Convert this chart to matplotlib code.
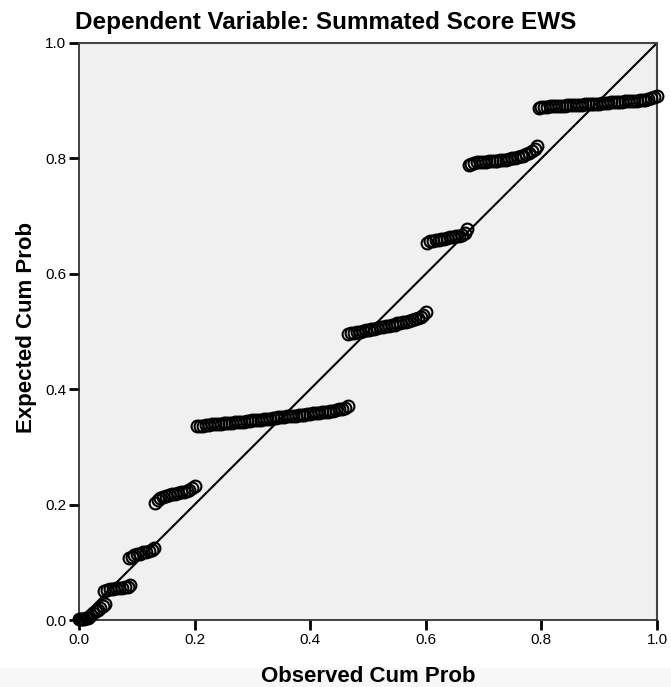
import matplotlib.pyplot as plt
from matplotlib.patches import Rectangle

plt.rcParams['font.family'] = ['Liberation Sans', 'DejaVu Sans']

# observed / expected cumulative probabilities, one list pair per cluster
obs_0 = [0.000, 0.003, 0.006, 0.009, 0.012, 0.015, 0.018]
exp_0 = [0.001, 0.001, 0.002, 0.002, 0.003, 0.004, 0.006]

obs_1 = [0.021, 0.025, 0.029, 0.033, 0.037, 0.041, 0.045]
exp_1 = [0.009, 0.012, 0.015, 0.018, 0.021, 0.024, 0.028]

obs_2 = [0.044, 0.049, 0.054, 0.059, 0.064, 0.069, 0.074, 0.079, 0.084, 0.088]
exp_2 = [0.050, 0.052, 0.053, 0.054, 0.055, 0.055, 0.056, 0.057, 0.058, 0.061]

obs_3 = [0.086, 0.091, 0.096, 0.101, 0.106, 0.111, 0.116, 0.121, 0.126, 0.129]
exp_3 = [0.107, 0.110, 0.112, 0.114, 0.115, 0.117, 0.118, 0.120, 0.122, 0.125]

obs_4 = [0.131, 0.136, 0.141, 0.146, 0.151, 0.156, 0.161, 0.166, 0.171,
         0.176, 0.181, 0.186, 0.191, 0.196, 0.200]
exp_4 = [0.203, 0.208, 0.211, 0.213, 0.215, 0.216, 0.218, 0.219, 0.220,
         0.221, 0.222, 0.223, 0.225, 0.228, 0.232]

obs_5 = [0.205, 0.210, 0.215, 0.220, 0.225, 0.230, 0.235, 0.240, 0.245, 0.250,
         0.255, 0.260, 0.265, 0.270, 0.275, 0.280, 0.285, 0.290, 0.295, 0.300,
         0.305, 0.310, 0.315, 0.320, 0.325, 0.330, 0.335, 0.340, 0.345, 0.350,
         0.355, 0.360, 0.365, 0.370, 0.375, 0.380, 0.385, 0.390, 0.395, 0.400,
         0.405, 0.410, 0.415, 0.420, 0.425, 0.430, 0.435, 0.440, 0.445, 0.450,
         0.455, 0.460, 0.465]
exp_5 = [0.336, 0.337, 0.337, 0.338, 0.338, 0.339, 0.339, 0.340, 0.340, 0.341,
         0.341, 0.342, 0.342, 0.343, 0.343, 0.344, 0.344, 0.345, 0.345, 0.346,
         0.346, 0.347, 0.347, 0.348, 0.348, 0.349, 0.350, 0.350, 0.351, 0.351,
         0.352, 0.353, 0.353, 0.354, 0.354, 0.355, 0.356, 0.356, 0.357, 0.357,
         0.358, 0.359, 0.359, 0.360, 0.361, 0.361, 0.362, 0.363, 0.364, 0.365,
         0.366, 0.368, 0.371]

obs_6 = [0.466, 0.471, 0.476, 0.481, 0.486, 0.491, 0.496, 0.501, 0.506, 0.511,
         0.516, 0.521, 0.526, 0.531, 0.536, 0.541, 0.546, 0.551, 0.556, 0.561,
         0.566, 0.571, 0.576, 0.581, 0.586, 0.591, 0.596, 0.600]
exp_6 = [0.496, 0.497, 0.498, 0.499, 0.500, 0.501, 0.502, 0.503, 0.504, 0.505,
         0.506, 0.507, 0.508, 0.509, 0.510, 0.511, 0.512, 0.514, 0.515, 0.516,
         0.517, 0.519, 0.520, 0.521, 0.523, 0.525, 0.528, 0.533]

obs_7 = [0.602, 0.607, 0.612, 0.617, 0.622, 0.627, 0.632, 0.637, 0.642, 0.647,
         0.652, 0.657, 0.662, 0.667, 0.672]
exp_7 = [0.654, 0.656, 0.657, 0.658, 0.659, 0.660, 0.661, 0.662, 0.663, 0.664,
         0.665, 0.666, 0.668, 0.671, 0.677]

obs_8 = [0.674, 0.679, 0.684, 0.689, 0.694, 0.699, 0.704, 0.709, 0.714, 0.719,
         0.724, 0.729, 0.734, 0.739, 0.744, 0.749, 0.754, 0.759, 0.764, 0.769,
         0.774, 0.779, 0.784, 0.789, 0.792]
exp_8 = [0.789, 0.791, 0.792, 0.793, 0.793, 0.794, 0.794, 0.795, 0.795, 0.796,
         0.796, 0.797, 0.797, 0.798, 0.799, 0.800, 0.801, 0.802, 0.804, 0.805,
         0.807, 0.809, 0.812, 0.816, 0.821]

obs_9 = [0.795, 0.800, 0.805, 0.810, 0.815, 0.820, 0.825, 0.830, 0.835, 0.840,
         0.845, 0.850, 0.855, 0.860, 0.865, 0.870, 0.875, 0.880, 0.885, 0.890,
         0.895, 0.900, 0.905, 0.910, 0.915, 0.920, 0.925, 0.930, 0.935, 0.940,
         0.945, 0.950, 0.955, 0.960, 0.965, 0.970, 0.975, 0.980, 0.985, 0.990,
         0.995, 1.000]
exp_9 = [0.888, 0.889, 0.889, 0.889, 0.890, 0.890, 0.890, 0.891, 0.891, 0.891,
         0.892, 0.892, 0.892, 0.893, 0.893, 0.893, 0.894, 0.894, 0.894, 0.895,
         0.895, 0.895, 0.896, 0.896, 0.896, 0.897, 0.897, 0.897, 0.898, 0.898,
         0.899, 0.899, 0.899, 0.900, 0.900, 0.901, 0.901, 0.902, 0.903, 0.904,
         0.906, 0.909]

observed = obs_0 + obs_1 + obs_2 + obs_3 + obs_4 + obs_5 + obs_6 + obs_7 + obs_8 + obs_9
expected = exp_0 + exp_1 + exp_2 + exp_3 + exp_4 + exp_5 + exp_6 + exp_7 + exp_8 + exp_9

ticks = [0.0, 0.2, 0.4, 0.6, 0.8, 1.0]
tick_labels = ['0.0', '0.2', '0.4', '0.6', '0.8', '1.0']

fig = plt.figure(figsize=(6.71, 6.87), dpi=100)
fig.patches.append(Rectangle((0, 0), 1, 19 / 687, transform=fig.transFigure,
                             color='#f7f7f7', zorder=0))
ax = fig.add_axes([79 / 671, 67 / 687, 578 / 671, 577 / 687])
ax.set_facecolor('#f0f0f0')

# reference line
ax.plot([0, 1], [0, 1], color='black', lw=1.5, zorder=2)

ax.plot(observed, expected, linestyle='none', marker='o', markersize=8.5,
        markerfacecolor='none', markeredgecolor='black', markeredgewidth=1.5,
        clip_on=False, zorder=3)

ax.set_xlim(0, 1)
ax.set_ylim(0, 1)
ax.set_xticks(ticks)
ax.set_xticklabels(tick_labels)
ax.set_yticks(ticks)
ax.set_yticklabels(tick_labels)
ax.tick_params(direction='out', length=7, width=2, labelsize=11, colors='black',
               pad=2)
for side in ['left', 'bottom']:
    ax.spines[side].set_color('#222222')
    ax.spines[side].set_linewidth(1.2)
for side in ['top', 'right']:
    ax.spines[side].set_color('#444444')
    ax.spines[side].set_linewidth(1.5)

fig.text(368 / 671, 1 - 677 / 687, 'Observed Cum Prob', fontsize=16,
         fontweight='bold', ha='center', va='center')
fig.text(27 / 671, 1 - 328 / 687, 'Expected Cum Prob', fontsize=16,
         fontweight='bold', ha='center', va='center', rotation=90)
fig.text(75 / 671, 1 - 22 / 687, 'Dependent Variable: Summated Score EWS',
         fontsize=17.5, fontweight='bold', ha='left', va='center')

fig.savefig('out.png', dpi=100)
